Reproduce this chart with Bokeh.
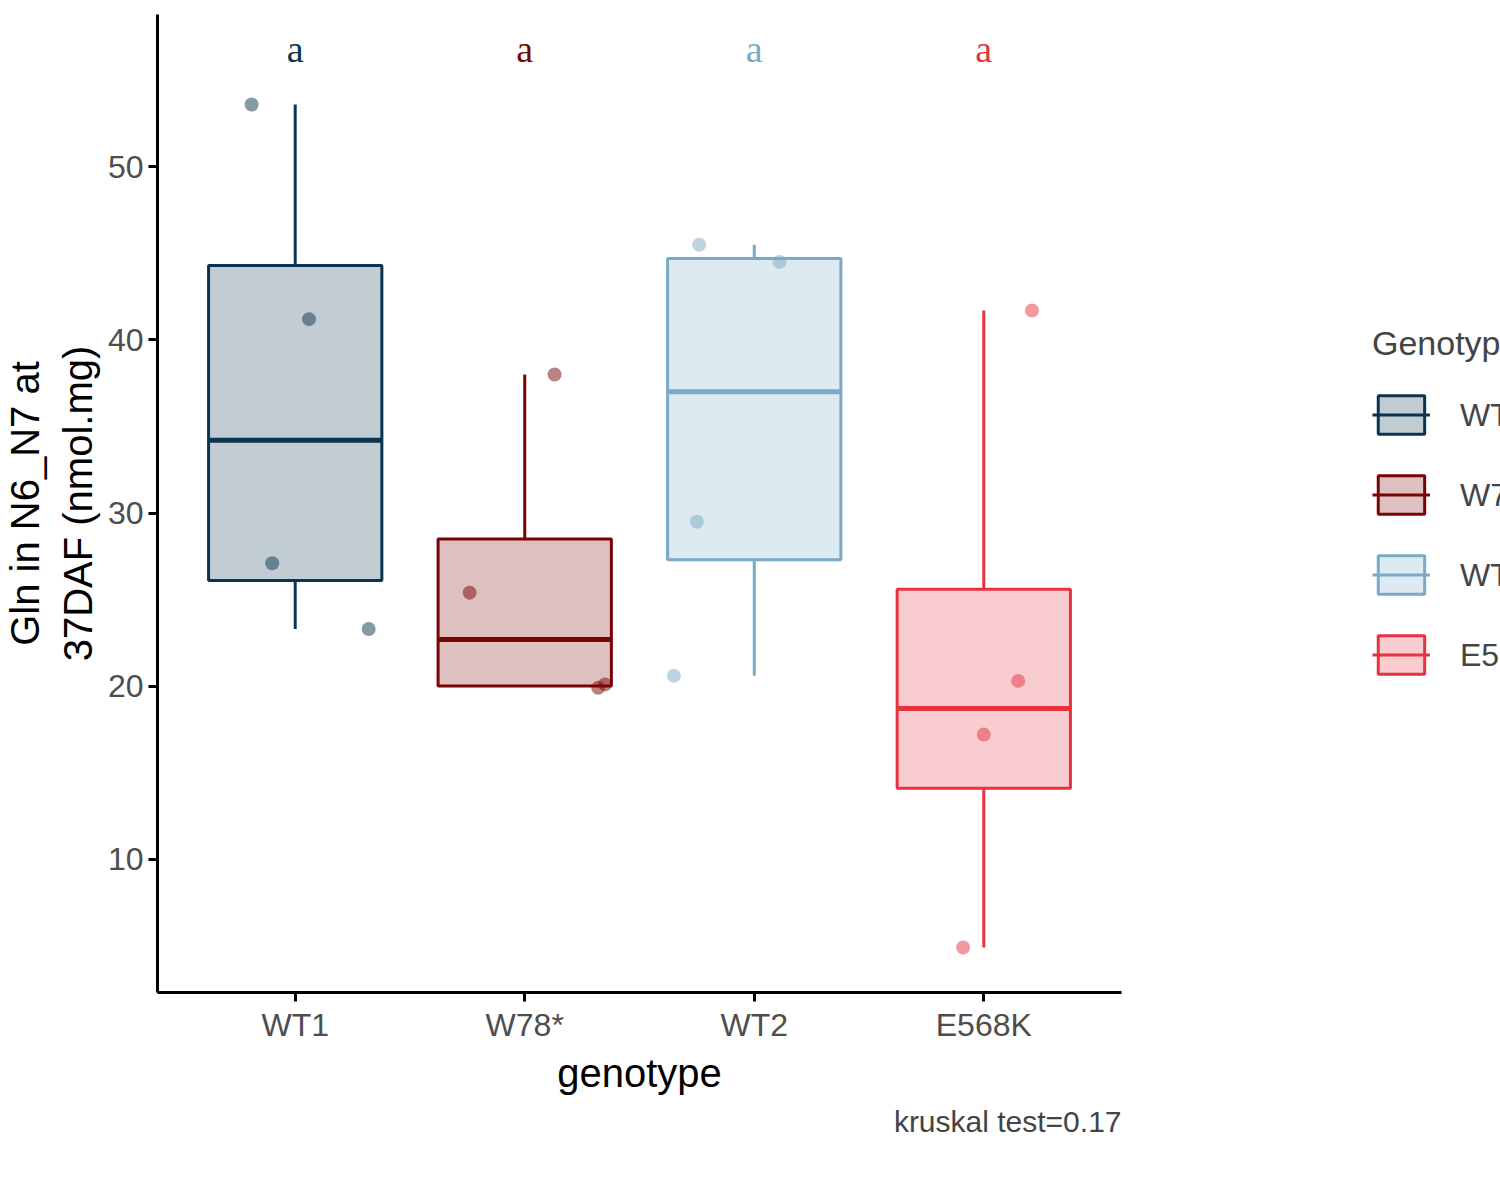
from bokeh.plotting import figure
from bokeh.models import FixedTicker, Legend, LegendItem, Title, Range1d
from bokeh.embed import file_html
from bokeh.resources import INLINE

genotypes = ["WT1", "W78*", "WT2", "E568K"]
colors = ["#0A3550", "#7A0403", "#7BAAC8", "#E8333F"]
q1 = [26.1, 20.0, 27.3, 14.1]
med = [34.2, 22.7, 37.0, 18.7]
q3 = [44.3, 28.5, 44.7, 25.6]
wlo = [23.3, 20.0, 20.6, 4.9]
whi = [53.6, 38.0, 45.5, 41.7]
pts_y = [[53.6, 41.2, 27.1, 23.3], [38.0, 25.4, 19.9, 20.1], [45.5, 44.5, 29.5, 20.6], [41.7, 20.3, 17.2, 4.9]]
pts_dx = [[-0.19, 0.06, -0.10, 0.32], [0.13, -0.24, 0.32, 0.35], [-0.24, 0.11, -0.25, -0.35], [0.21, 0.15, 0.0, -0.09]]
letters = ["a", "a", "a", "a"]

F = "Liberation Sans"
p = figure(frame_width=964, frame_height=978, output_backend="svg", toolbar_location=None,
           x_range=Range1d(0.4, 4.6), y_range=Range1d(2.3, 58.8),
           min_border_left=10, min_border_top=14, min_border_bottom=5, min_border_right=10)
p.grid.visible = False
p.outline_line_color = None
bw = 0.755
items = []
for i, g in enumerate(genotypes):
    x = i + 1
    c = colors[i]
    s1 = p.segment([x], [wlo[i]], [x], [q1[i]], line_color=c, line_width=3)
    p.segment([x], [q3[i]], [x], [whi[i]], line_color=c, line_width=3)
    q = p.quad(left=[x - bw / 2], right=[x + bw / 2], bottom=[q1[i]], top=[q3[i]],
               fill_color=c, fill_alpha=0.25, line_color=c, line_width=3)
    p.segment([x - bw / 2], [med[i]], [x + bw / 2], [med[i]], line_color=c, line_width=5)
    p.scatter([x + d for d in pts_dx[i]], pts_y[i], size=14, color=c, alpha=0.5, line_color=None)
    p.text([x], [56.8], text=[letters[i]], text_color=c, text_font_size="38px", text_font=F,
           text_align="center", text_baseline="middle")
    items.append(LegendItem(label=g, renderers=[q, s1]))

leg = Legend(items=items, title="Genotype", title_text_font_size="34px", title_text_font=F,
             title_text_font_style="normal", label_text_font=F,
             label_text_font_size="32px", glyph_width=58, glyph_height=48,
             label_height=56, spacing=24, border_line_color=None, margin=30,
             padding=10, title_standoff=24, label_standoff=30, location="center")
p.add_layout(leg, "right")

p.xaxis.ticker = FixedTicker(ticks=[1, 2, 3, 4])
p.xaxis.major_label_overrides = {i + 1: g for i, g in enumerate(genotypes)}
p.yaxis.ticker = FixedTicker(ticks=[10, 20, 30, 40, 50])
for ax in (p.xaxis, p.yaxis):
    ax.axis_line_width = 3
    ax.major_tick_line_width = 3
    ax.major_tick_out = 9
    ax.major_tick_in = 0
    ax.minor_tick_line_color = None
    ax.major_label_text_font_size = "32px"
    ax.major_label_text_font = F
    ax.major_label_text_color = "#4D4D4D"
    ax.axis_label_text_font_size = "40px"
    ax.axis_label_text_font = F
    ax.axis_label_text_color = "black"
    ax.axis_label_text_font_style = "normal"
p.xaxis.axis_label = "genotype"
p.yaxis.axis_label = "Gln in N6_N7 at\n37DAF (nmol.mg)"
p.add_layout(Title(text="kruskal test=0.17", align="right", text_font_size="30px", text_font=F,
                   text_font_style="normal"), "below")

open("out.html", "w").write(file_html(p, INLINE))
